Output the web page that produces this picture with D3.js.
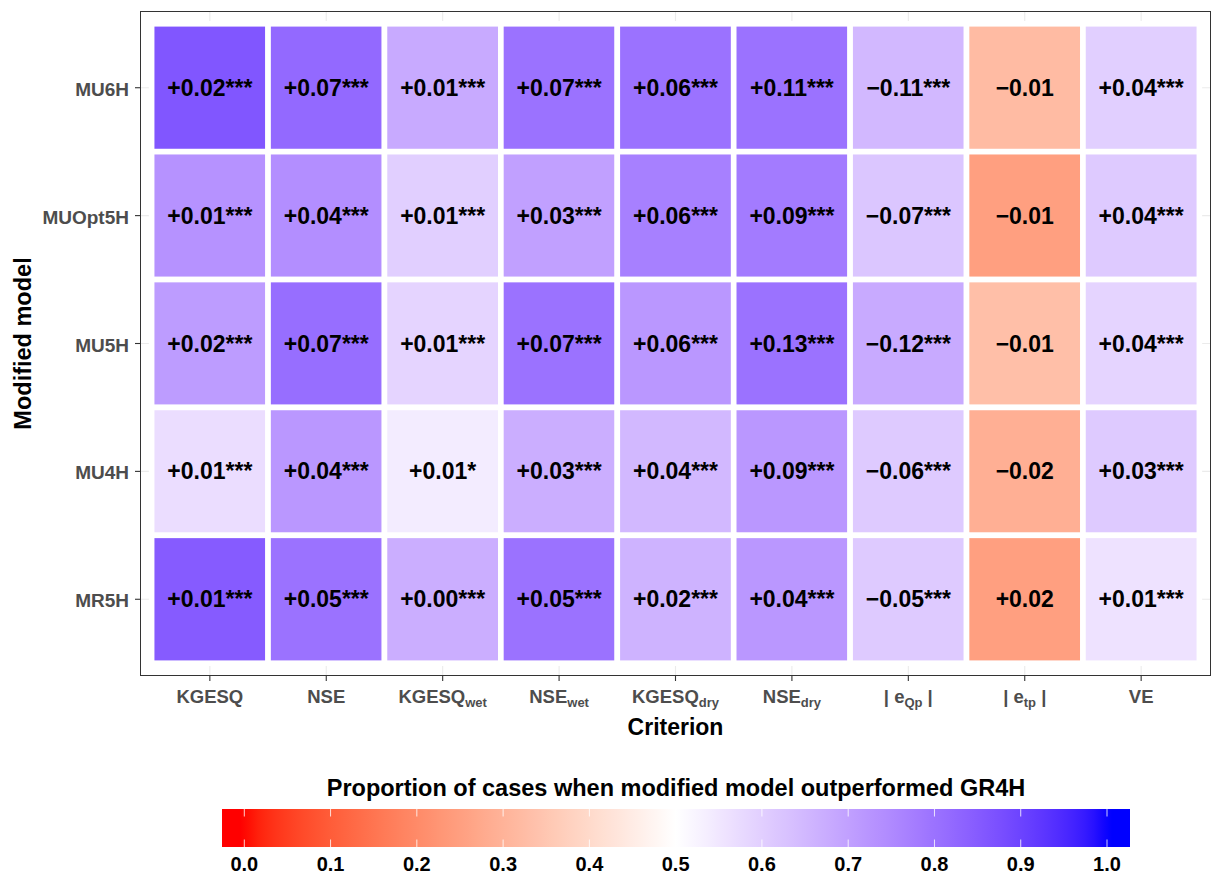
<!DOCTYPE html>
<html>
<head>
<meta charset="utf-8">
<script src="https://cdn.jsdelivr.net/npm/d3@7"></script>
<style>
  body { margin: 0; background: #fff; }
  svg { font-family: "Liberation Sans", Arial, sans-serif; }
</style>
</head>
<body>
<svg id="heatmap"></svg>
<script>
// rows top to bottom
const models = ["MU6H", "MUOpt5H", "MU5H", "MU4H", "MR5H"];
const criteria = ["KGESQ", "NSE", "KGESQwet", "NSEwet", "KGESQdry", "NSEdry", "eQp", "etp", "VE"];
// tick label parts: [main, subscript, suffix]
const criterionLabels = [
  ["KGESQ"], ["NSE"], ["KGESQ", "wet"], ["NSE", "wet"], ["KGESQ", "dry"],
  ["NSE", "dry"], ["| e", "Qp", " |"], ["| e", "tp", " |"], ["VE"]
];

// proportion of cases the modified model did better (fill)
const propMU6H    = [0.86, 0.82, 0.68, 0.80, 0.80, 0.80, 0.65, 0.32, 0.60];
const propMUOpt5H = [0.73, 0.74, 0.60, 0.70, 0.77, 0.78, 0.62, 0.25, 0.61];
const propMU5H    = [0.71, 0.81, 0.59, 0.80, 0.72, 0.80, 0.68, 0.33, 0.59];
const propMU4H    = [0.57, 0.72, 0.54, 0.67, 0.65, 0.72, 0.61, 0.29, 0.61];
const propMR5H    = [0.85, 0.80, 0.67, 0.80, 0.66, 0.72, 0.61, 0.25, 0.56];

// median difference and significance stars (cell labels)
const diffMU6H    = [0.02, 0.07, 0.01, 0.07, 0.06, 0.11, -0.11, -0.01, 0.04];
const diffMUOpt5H = [0.01, 0.04, 0.01, 0.03, 0.06, 0.09, -0.07, -0.01, 0.04];
const diffMU5H    = [0.02, 0.07, 0.01, 0.07, 0.06, 0.13, -0.12, -0.01, 0.04];
const diffMU4H    = [0.01, 0.04, 0.01, 0.03, 0.04, 0.09, -0.06, -0.02, 0.03];
const diffMR5H    = [0.01, 0.05, 0.00, 0.05, 0.02, 0.04, -0.05, 0.02, 0.01];

const starsMU6H    = ["***", "***", "***", "***", "***", "***", "***", "", "***"];
const starsMUOpt5H = ["***", "***", "***", "***", "***", "***", "***", "", "***"];
const starsMU5H    = ["***", "***", "***", "***", "***", "***", "***", "", "***"];
const starsMU4H    = ["***", "***", "*", "***", "***", "***", "***", "", "***"];
const starsMR5H    = ["***", "***", "***", "***", "***", "***", "***", "", "***"];

const legendTicks = [0, 0.1, 0.2, 0.3, 0.4, 0.5, 0.6, 0.7, 0.8, 0.9, 1.0];

const props = [propMU6H, propMUOpt5H, propMU5H, propMU4H, propMR5H];
const diffs = [diffMU6H, diffMUOpt5H, diffMU5H, diffMU4H, diffMR5H];
const stars = [starsMU6H, starsMUOpt5H, starsMU5H, starsMU4H, starsMR5H];

const cells = [];
models.forEach((m, i) => {
  criteria.forEach((c, j) => {
    cells.push({ model: m, criterion: c, prop: props[i][j], diff: diffs[i][j], stars: stars[i][j] });
  });
});

const W = 1212, H = 877;
const panel = { left: 140, top: 11, right: 1211, bottom: 676 };

const svg = d3.select("#heatmap").attr("width", W).attr("height", H);

const x = d3.scalePoint().domain(criteria).range([panel.left, panel.right]).padding(0.6);
const y = d3.scalePoint().domain(models).range([panel.top, panel.bottom]).padding(0.6);

const color = d3.scaleLinear()
  .domain([0, 0.5, 1])
  .range(["#ff0000", "#ffffff", "#0000ff"])
  .interpolate(d3.interpolateLab)
  .clamp(true);

// grid
const grid = svg.append("g");
grid.selectAll(".vgrid").data(criteria).enter().append("line")
  .attr("x1", d => x(d)).attr("x2", d => x(d))
  .attr("y1", panel.top).attr("y2", panel.bottom)
  .attr("stroke", "#ebebeb").attr("stroke-width", 1.1);
grid.selectAll(".hgrid").data(models).enter().append("line")
  .attr("x1", panel.left).attr("x2", panel.right)
  .attr("y1", d => y(d)).attr("y2", d => y(d))
  .attr("stroke", "#ebebeb").attr("stroke-width", 1.1);

// tiles
const sx = x.step(), sy = y.step();
svg.append("g").selectAll("rect").data(cells).enter().append("rect")
  .attr("x", d => x(d.criterion) - sx / 2)
  .attr("y", d => y(d.model) - sy / 2)
  .attr("width", sx)
  .attr("height", sy)
  .attr("fill", d => color(d.prop))
  .attr("stroke", "#fff")
  .attr("stroke-width", 5.6);

// cell labels
const fmt = d => (d < 0 ? "\u2212" : "+") + Math.abs(d).toFixed(2);
svg.append("g").selectAll("text").data(cells).enter().append("text")
  .attr("x", d => x(d.criterion))
  .attr("y", d => y(d.model) + 8)
  .attr("text-anchor", "middle")
  .style("font-size", "23px")
  .style("font-weight", "bold")
  .attr("fill", "#000")
  .text(d => fmt(d.diff) + d.stars);

// panel border
svg.append("rect")
  .attr("x", panel.left + 0.5).attr("y", panel.top + 0.5)
  .attr("width", panel.right - panel.left - 1).attr("height", panel.bottom - panel.top - 1)
  .attr("fill", "none").attr("stroke", "#333").attr("stroke-width", 1);

// x axis
const xAxis = svg.append("g");
xAxis.selectAll("line").data(criteria).enter().append("line")
  .attr("x1", d => x(d)).attr("x2", d => x(d))
  .attr("y1", panel.bottom).attr("y2", panel.bottom + 5)
  .attr("stroke", "#333").attr("stroke-width", 1.1);
const xl = xAxis.selectAll("text").data(criteria).enter().append("text")
  .attr("x", d => x(d))
  .attr("y", panel.bottom + 27)
  .attr("text-anchor", "middle")
  .style("font-size", "18.5px")
  .style("font-weight", "bold")
  .attr("fill", "#4d4d4d");
xl.each(function (d, i) {
  const parts = criterionLabels[i];
  const t = d3.select(this);
  t.append("tspan").text(parts[0]);
  if (parts[1]) t.append("tspan").attr("dy", 4).style("font-size", "13px").text(parts[1]);
  if (parts[2]) t.append("tspan").attr("dy", -4).text(parts[2]);
});

// y axis
const yAxis = svg.append("g");
yAxis.selectAll("line").data(models).enter().append("line")
  .attr("x1", panel.left - 5).attr("x2", panel.left)
  .attr("y1", d => y(d)).attr("y2", d => y(d))
  .attr("stroke", "#333").attr("stroke-width", 1.1);
yAxis.selectAll("text").data(models).enter().append("text")
  .attr("x", panel.left - 11)
  .attr("y", d => y(d) + 8)
  .attr("text-anchor", "end")
  .style("font-size", "19px")
  .style("font-weight", "bold")
  .attr("fill", "#4d4d4d")
  .text(d => d);

// axis titles
svg.append("text")
  .attr("x", (panel.left + panel.right) / 2)
  .attr("y", 735)
  .attr("text-anchor", "middle")
  .style("font-size", "23px")
  .style("font-weight", "bold")
  .text("Criterion");

svg.append("text")
  .attr("transform", `translate(31,${(panel.top + panel.bottom) / 2}) rotate(-90)`)
  .attr("text-anchor", "middle")
  .style("font-size", "23.5px")
  .style("font-weight", "bold")
  .text("Modified model");

// legend
const lx = d3.scaleLinear().domain([0, 1]).range([244.3, 1107]);
const barTop = 809, barH = 38;
const barMin = lx.invert(222), barMax = lx.invert(1130);

const grad = svg.append("defs").append("linearGradient")
  .attr("id", "legend-grad")
  .attr("x1", "0%").attr("x2", "100%").attr("y1", "0%").attr("y2", "0%");
d3.range(0, 101).forEach(k => {
  const v = barMin + (barMax - barMin) * k / 100;
  grad.append("stop").attr("offset", `${k}%`).attr("stop-color", color(v));
});

svg.append("rect")
  .attr("x", lx(barMin)).attr("y", barTop)
  .attr("width", lx(barMax) - lx(barMin)).attr("height", barH)
  .attr("fill", "url(#legend-grad)");

const lt = svg.append("g");
lt.selectAll(".tt").data(legendTicks).enter().append("line")
  .attr("x1", d => lx(d)).attr("x2", d => lx(d))
  .attr("y1", barTop).attr("y2", barTop + 7.5)
  .attr("stroke", "#fff").attr("stroke-opacity", 0.8).attr("stroke-width", 1);
lt.selectAll(".tb").data(legendTicks).enter().append("line")
  .attr("x1", d => lx(d)).attr("x2", d => lx(d))
  .attr("y1", barTop + barH - 7.5).attr("y2", barTop + barH)
  .attr("stroke", "#fff").attr("stroke-opacity", 0.8).attr("stroke-width", 1);
lt.selectAll("text").data(legendTicks).enter().append("text")
  .attr("x", d => lx(d))
  .attr("y", 871)
  .attr("text-anchor", "middle")
  .style("font-size", "20px")
  .style("font-weight", "bold")
  .text(d => d.toFixed(1));

svg.append("text")
  .attr("x", (lx(barMin) + lx(barMax)) / 2)
  .attr("y", 796)
  .attr("text-anchor", "middle")
  .style("font-size", "23.5px")
  .style("font-weight", "bold")
  .text("Proportion of cases when modified model outperformed GR4H");
</script>
</body>
</html>
